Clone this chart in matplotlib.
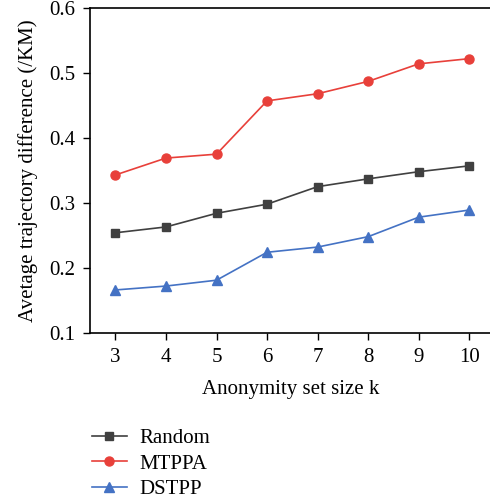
import numpy as np
import matplotlib
matplotlib.use("Agg")
import matplotlib.pyplot as plt

k = [3, 4, 5, 6, 7, 8, 9, 10]
random_vals = [0.254, 0.263, 0.284, 0.298, 0.325, 0.337, 0.348, 0.357]
mtppa_vals = [0.343, 0.369, 0.375, 0.457, 0.468, 0.487, 0.514, 0.522]
dstpp_vals = [0.166, 0.172, 0.181, 0.224, 0.232, 0.248, 0.278, 0.289]
yticks = [0.1, 0.2, 0.3, 0.4, 0.5, 0.6]

plt.rcParams['font.family'] = ['Liberation Serif', 'DejaVu Serif']

fig = plt.figure(figsize=(4.9, 4.99), dpi=100)
ax = fig.add_axes([0.184, 0.333, 0.82, 0.651])

ax.plot(k, random_vals, color='#404040', marker='s', markersize=6, linewidth=1.2, label='Random')
ax.plot(k, mtppa_vals, color='#e8403a', marker='o', markersize=6.5, linewidth=1.2, label='MTPPA')
ax.plot(k, dstpp_vals, color='#4472c4', marker='^', markersize=7, linewidth=1.2, label='DSTPP')

ax.set_xlim(2.5, 10.45)
ax.set_ylim(0.1, 0.6)
ax.set_xticks(k)
ax.set_yticks(yticks)
ax.set_yticklabels(['%.1f' % v for v in yticks])
ax.tick_params(direction='out', length=5, width=1, labelsize=15, pad=6)
for s in ['left', 'bottom', 'top']:
    ax.spines[s].set_linewidth(1.2)
ax.spines['right'].set_visible(False)

ax.set_xlabel('Anonymity set size k', fontsize=15, labelpad=9)
ax.set_ylabel('Avetage trajectory difference (/KM)', fontsize=15, labelpad=8)

ax.legend(loc='upper left', bbox_to_anchor=(-0.017, -0.268), frameon=False,
          fontsize=15, handlelength=1.7, handletextpad=0.6, labelspacing=0.3,
          borderaxespad=0)

fig.savefig('out.png', dpi=100)
